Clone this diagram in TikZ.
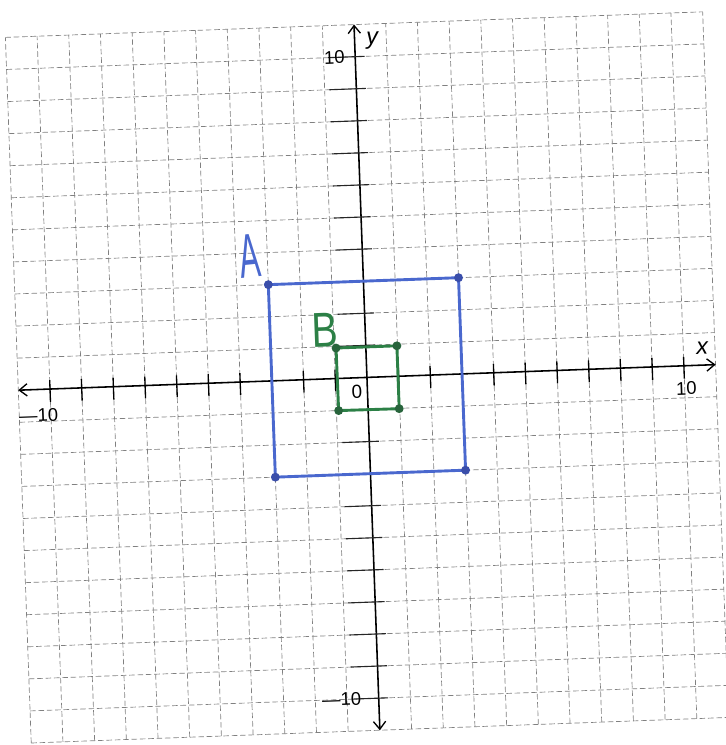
\documentclass[tikz,border=0pt]{standalone}
\usepackage{fontspec}
\setmainfont{Liberation Sans}
\usetikzlibrary{arrows.meta}
\definecolor{ablue}{RGB}{74,104,206}
\definecolor{adot}{RGB}{58,78,170}
\definecolor{bgreen}{RGB}{44,128,70}
\definecolor{bdot}{RGB}{40,100,60}
\begin{document}
\begin{tikzpicture}[
  gridline/.style={draw=black!50, line width=0.6pt, dash pattern=on 5pt off 2.5pt},
  axis/.style={draw=black, line width=1.4pt, {Straight Barb[length=7pt,width=11pt,line width=1.2pt]}-{Straight Barb[length=7pt,width=11pt,line width=1.2pt]}},
  tickmark/.style={draw=black, line width=1.2pt},
  ytickmark/.style={draw=black!85, line width=1pt},
  num/.style={font=\fontsize{16.5}{18}\selectfont, inner sep=0pt, rotate=2.1},
  var/.style={font=\fontsize{21}{23}\selectfont\itshape, inner sep=0pt, rotate=2.1},
  sqA/.style={draw=ablue, line width=2.6pt, line join=round},
  sqB/.style={draw=bgreen, line width=2.6pt, line join=round},
  dotA/.style={circle, fill=adot, inner sep=0pt, minimum size=8pt},
  dotB/.style={circle, fill=bdot, inner sep=0pt, minimum size=8pt},
]
\useasboundingbox (-11.57cm,-11.59cm) rectangle (11.29cm,11.90cm);
\begin{scope}[rotate=2.1, yscale=1.012]
  % grid
  \foreach \i in {-11,...,11} {
    \draw[gridline] (\i,-11) -- (\i,11);
    \draw[gridline] (-11,\i) -- (11,\i);
  }
  % axes
  \coordinate (xl) at (-11,0);
  \coordinate (xr) at (11,0);
  \coordinate (yb) at (0,-11);
  \coordinate (yt) at (0,11);
  \draw[axis] (xl) -- (xr);
  \draw[axis] (yb) -- (yt);
  \foreach \i in {-10,...,-1,1,2,...,10} {
    \draw[tickmark] (\i,-0.4) -- (\i,0.28);
    \draw[ytickmark] (-0.85,\i) -- (0.3,\i);
  }
  % axis labels
  \node[num] (xp10) at (10.05,-0.71) {10};
  \node[num] (xm10) at (-10.39,-0.81) {\textemdash10};
  \node[num] (yp10) at (-0.66,10.0) {10};
  \node[num] (ym10) at (-1.17,-10.0) {\textemdash10};
  \node[var] (xlab) at (10.6,0.52) {x};
  \node[var] (ylab) at (0.56,10.47) {y};
  \node[num, font=\fontsize{17}{19}\selectfont] (zero) at (-0.33,-0.45) {0};
  % square A
  \coordinate (a1) at (-3,3);
  \coordinate (a2) at (3,3);
  \coordinate (a3) at (3,-3);
  \coordinate (a4) at (-3,-3);
  \draw[sqA] (a1) -- (a2) -- (a3) -- (a4) -- cycle;
  \foreach \c in {a1,a2,a3,a4} \node[dotA] (d\c) at (\c) {};
  % square B
  \coordinate (b1) at (-0.94,0.95);
  \coordinate (b2) at (0.98,0.95);
  \coordinate (b3) at (0.98,-1.01);
  \coordinate (b4) at (-0.93,-1.0);
  \draw[sqB] (b1) -- (b2) -- (b3) -- (b4) -- cycle;
  \foreach \c in {b1,b2,b3,b4} \node[dotB] (d\c) at (\c) {};
  % labels
  \node[font=\fontsize{56}{60}\selectfont, text=ablue, inner sep=0pt, rotate=6] (labA) at (-3.57,3.9) {\scalebox{0.5}[1]{A}};
  \node[font=\fontsize{44}{48}\selectfont, text=bgreen, inner sep=0pt, rotate=2.1] (labB) at (-1.28,1.53) {\scalebox{0.8}[1]{B}};
\end{scope}
\end{tikzpicture}
\end{document}
